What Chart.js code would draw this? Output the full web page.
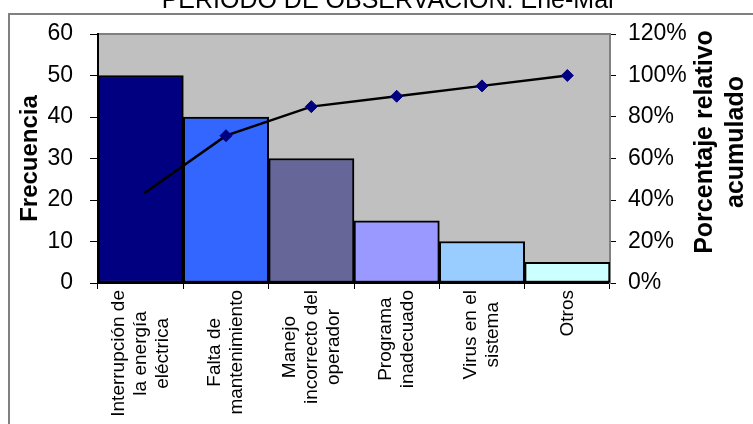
<!DOCTYPE html>
<html>
<head>
<meta charset="utf-8">
<script src="https://cdn.jsdelivr.net/npm/chart.js@4.4.0/dist/chart.umd.min.js"></script>
<style>
  html, body { margin: 0; padding: 0; background: #fff; overflow: hidden; }
  canvas { display: block; }
</style>
</head>
<body>
<canvas id="pareto" width="753" height="424"></canvas>
<script>
// Causas de falla (una línea por renglón de la etiqueta)
const causas = [
  ["Interrupción de", "la energía", "eléctrica"],
  ["Falta de", "mantenimiento"],
  ["Manejo", "incorrecto del", "operador"],
  ["Programa", "inadecuado"],
  ["Virus en el", "sistema"],
  ["Otros"]
];
// Frecuencia de cada causa
const frecuencia = [50, 40, 30, 15, 10, 5];
// Porcentaje relativo acumulado (fracción)
const porcentajeAcumulado = [0.42, 0.71, 0.85, 0.90, 0.95, 1.00];
// Marcas de los ejes
const ticksFrecuencia = [0, 10, 20, 30, 40, 50, 60];
const ticksPorcentaje = [0, 0.2, 0.4, 0.6, 0.8, 1.0, 1.2];

const titulo = "PERIODO DE OBSERVACION: Ene-Mar";
const tituloFrecuencia = "Frecuencia";
const tituloPorcentaje = ["Porcentaje relativo", "acumulado"];

const coloresBarras = ["#000080", "#3366FF", "#666699", "#9999FF", "#99CCFF", "#CCFFFF"];
const FONT = '"Liberation Sans", Arial, sans-serif';

// Fondo blanco, marco exterior y área de trazado gris
const fondo = {
  id: 'fondo',
  beforeDraw(chart) {
    const { ctx, chartArea: a } = chart;
    ctx.save();
    ctx.fillStyle = '#fff';
    ctx.fillRect(0, 0, chart.width, chart.height);
    ctx.strokeStyle = '#808080';
    ctx.lineWidth = 2;
    ctx.strokeRect(9, 14, chart.width + 20, chart.height + 20);
    ctx.fillStyle = '#C0C0C0';
    ctx.fillRect(a.left, a.top, a.right - a.left, a.bottom - a.top);
    ctx.beginPath();
    ctx.moveTo(a.left, a.top);
    ctx.lineTo(a.right, a.top);
    ctx.stroke();
    ctx.restore();
  }
};

// Título, títulos de ejes y etiquetas de categoría giradas
const textos = {
  id: 'textos',
  afterDraw(chart) {
    const { ctx, chartArea: a } = chart;
    const xs = chart.scales.x;
    ctx.save();
    ctx.fillStyle = '#000';

    ctx.font = '25px ' + FONT;
    ctx.textAlign = 'center';
    ctx.textBaseline = 'alphabetic';
    ctx.fillText(titulo, 389, 8);

    ctx.font = 'bold 24px ' + FONT;
    ctx.textBaseline = 'middle';
    ctx.save();
    ctx.translate(30, (a.top + a.bottom) / 2);
    ctx.rotate(-Math.PI / 2);
    ctx.fillText(tituloFrecuencia, 0, 0);
    ctx.restore();

    ctx.font = 'bold 25px ' + FONT;
    ctx.save();
    ctx.translate(721, 142);
    ctx.rotate(-Math.PI / 2);
    tituloPorcentaje.forEach((t, i) => {
      ctx.fillText(t, 0, (i - (tituloPorcentaje.length - 1) / 2) * 31);
    });
    ctx.restore();

    ctx.font = '19px ' + FONT;
    const top = a.bottom + 7;
    causas.forEach((lineas, i) => {
      const cx = xs.getPixelForValue(i);
      const anchoMax = Math.max(...lineas.map(l => ctx.measureText(l).width));
      ctx.save();
      ctx.translate(cx, top);
      ctx.rotate(-Math.PI / 2);
      lineas.forEach((l, j) => {
        ctx.fillText(l, -anchoMax / 2, (j - (lineas.length - 1) / 2) * 22);
      });
      ctx.restore();
    });
    ctx.restore();
  }
};

new Chart(document.getElementById('pareto'), {
  data: {
    labels: causas,
    datasets: [
      {
        type: 'line',
        data: porcentajeAcumulado,
        yAxisID: 'y1',
        borderColor: '#000',
        borderWidth: 2.5,
        tension: 0,
        pointStyle: 'rectRot',
        pointRadius: 6,
        pointBackgroundColor: '#000080',
        pointBorderColor: '#000080',
        pointBorderWidth: 1,
        clip: false,
        order: 0
      },
      {
        type: 'bar',
        data: frecuencia,
        yAxisID: 'y',
        backgroundColor: coloresBarras,
        borderColor: '#000',
        borderWidth: 2,
        borderSkipped: false,
        categoryPercentage: 1,
        barPercentage: 1,
        order: 1
      }
    ]
  },
  options: {
    responsive: false,
    devicePixelRatio: 1,
    animation: false,
    events: [],
    layout: { padding: { top: 34, left: 0, right: 0, bottom: 0 } },
    plugins: { legend: { display: false }, tooltip: { enabled: false }, title: { display: false } },
    scales: {
      x: {
        type: 'category',
        offset: true,
        grid: { offset: true, drawOnChartArea: false, drawTicks: true, tickLength: 6, color: '#000', lineWidth: 1 },
        border: { display: true, color: '#000', width: 2 },
        ticks: { display: false },
        afterFit(s) { s.height = 424 - 283; }
      },
      y: {
        position: 'left',
        min: 0, max: 60,
        afterBuildTicks(s) { s.ticks = ticksFrecuencia.map(v => ({ value: v })); },
        grid: { drawOnChartArea: false, drawTicks: true, tickLength: 8, color: '#000', lineWidth: 1 },
        border: { display: true, color: '#000', width: 2 },
        ticks: { font: { family: FONT, size: 23 }, color: '#000', padding: 17 },
        afterFit(s) { s.width = 98; }
      },
      y1: {
        position: 'right',
        min: 0, max: 1.2,
        afterBuildTicks(s) { s.ticks = ticksPorcentaje.map(v => ({ value: v })); },
        grid: { drawOnChartArea: false, drawTicks: true, tickLength: 6, color: '#000', lineWidth: 1 },
        border: { display: true, color: '#808080', width: 2 },
        ticks: {
          font: { family: FONT, size: 23 }, color: '#000', padding: 12,
          callback: v => Math.round(v * 100) + '%'
        },
        afterFit(s) { s.width = 753 - 610; }
      }
    }
  },
  plugins: [fondo, textos]
});
</script>
</body>
</html>
